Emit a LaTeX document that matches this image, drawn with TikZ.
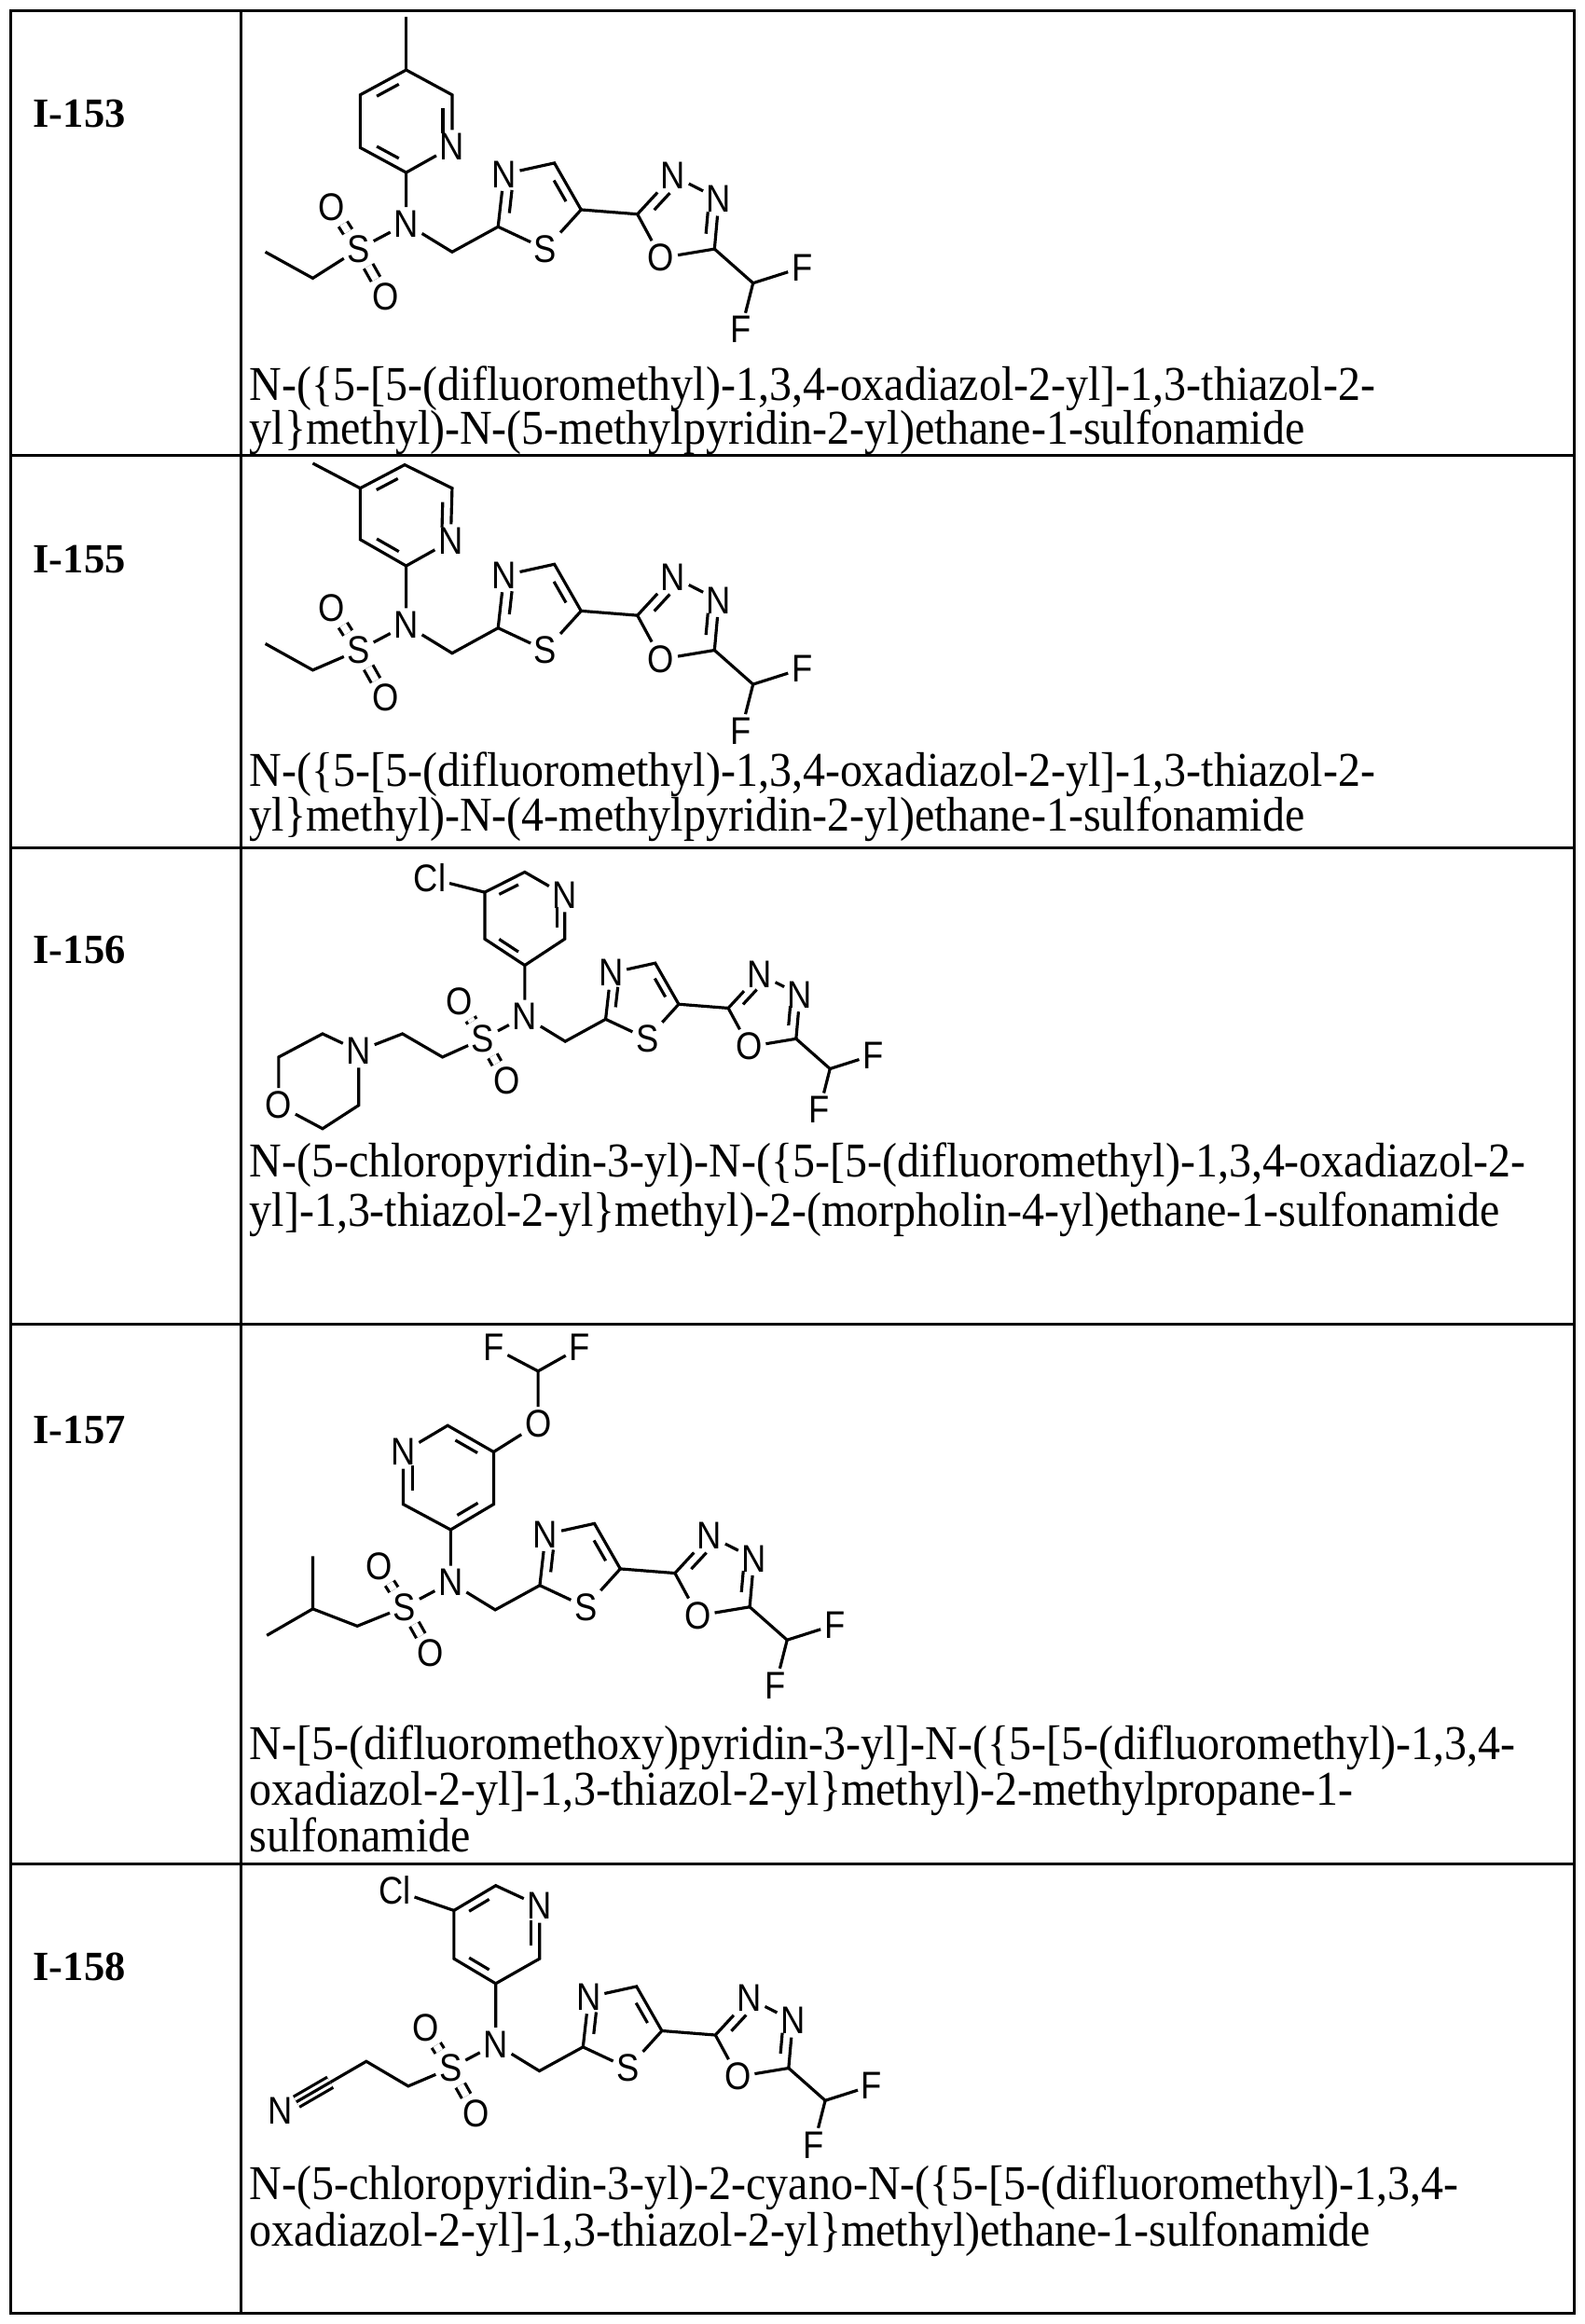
\documentclass[tikz,border=0pt]{standalone}
\usepackage{fontspec}
\setmainfont{Liberation Serif}
\newfontfamily\af[FakeStretch=0.88]{Liberation Sans}
\newfontfamily\nmf[FakeStretch=0.92]{Liberation Serif}
\usetikzlibrary{calc}
\tikzset{
 atm/.style={font=\af\fontsize{13}{14}\selectfont, inner sep=1pt},
 bond/.style={line width=1pt},
 sob/.style={line width=1pt, double, double distance=2.4pt},
 nm/.style={anchor=base west, font=\nmf\fontsize{16.4}{17}\selectfont, inner sep=0pt},
 lab/.style={anchor=west, font=\bfseries\fontsize{14}{15}\selectfont, inner sep=0pt},
 tab/.style={line width=1pt}
}
\newcommand\dbl[4]{\draw[bond] ($($(#1)!.2!(#2)$)!#4!(#3)$) -- ($($(#2)!.2!(#1)$)!#4!(#3)$);}
\newcommand\core[1]{%
 \node[atm] (#1N) at (0,0) {N};
 \coordinate (#1cm) at (31,19);
 \coordinate (#1t2) at (62,2);
 \node[atm] (#1t3) at (66,-33.5) {N};
 \coordinate (#1t4) at (100,-41);
 \coordinate (#1t5) at (118,-9.5);
 \node[atm] (#1t1) at (94,17) {S};
 \coordinate (#1tc) at (88,-13);
 \coordinate (#1o2) at (156,-6.5);
 \node[atm] (#1o3) at (180,-32.5) {N};
 \node[atm] (#1o4) at (211,-16.7) {N};
 \coordinate (#1o5) at (208,17);
 \node[atm] (#1o1) at (172,23) {O};
 \coordinate (#1oc) at (185,-3);
 \coordinate (#1cf) at (234,40);
 \node[atm] (#1f1) at (267,29.5) {F};
 \node[atm] (#1f2) at (226,71.5) {F};
 \node[atm] (#1S) at (-32,17) {S};
 \node[atm] (#1Oa) at (-50,-11.5) {O};
 \node[atm] (#1Ob) at (-14,49) {O};
 \draw[bond] (#1N)--(#1cm)--(#1t2)--(#1t3)--(#1t4)--(#1t5)--(#1t1)--(#1t2);
 \draw[bond] (#1t5)--(#1o2)--(#1o3)--(#1o4)--(#1o5)--(#1o1)--(#1o2);
 \draw[bond] (#1o5)--(#1cf)--(#1f1);
 \draw[bond] (#1cf)--(#1f2);
 \draw[bond] (#1N)--(#1S);
 \draw[sob] (#1S)--(#1Oa);
 \draw[sob] (#1S)--(#1Ob);
 \dbl{#1t2}{#1t3}{#1tc}{.27}
 \dbl{#1t4}{#1t5}{#1tc}{.25}
 \dbl{#1o2}{#1o3}{#1oc}{.27}
 \dbl{#1o4}{#1o5}{#1oc}{.27}
}
\begin{document}
\begin{tikzpicture}[x=0.5pt,y=-0.5pt]
\useasboundingbox (0,0) rectangle (1069,1568);
% table
\draw[tab] (7.3,7.3) rectangle (1062,1561);
\draw[tab] (162.6,7.3) -- (162.6,1561);
\foreach \yy in {307.3,572,893.6,1257.6} \draw[tab] (7.3,\yy) -- (1062,\yy);
\node[lab] (L1) at (22,76.6) {I-153};
\node[lab] (L2) at (22,377.6) {I-155};
\node[lab] (L3) at (22,641) {I-156};
\node[lab] (L4) at (22,965) {I-157};
\node[lab] (L5) at (22,1326.8) {I-158};

% ---------- I-153
\begin{scope}[shift={(274,151)}] \core{a} \end{scope}
\coordinate (a1) at (274,116.4);
\node[atm] (a2) at (305,99) {N};
\coordinate (a3) at (305,64);
\coordinate (a4) at (274,47.2);
\coordinate (a5) at (243,64);
\coordinate (a6) at (243,99.6);
\coordinate (ac) at (274,82);
\coordinate (am) at (274,11.5);
\coordinate (ae1) at (211,187.7);
\coordinate (ae2) at (179,170);
\draw[bond] (aN)--(a1)--(a2)--(a3)--(a4)--(a5)--(a6)--(a1);
\draw[bond] (a4)--(am);
\draw[bond] (aS)--(ae1)--(ae2);
\dbl{a2}{a3}{ac}{.2}
\dbl{a4}{a5}{ac}{.2}
\dbl{a6}{a1}{ac}{.2}
\node[nm] (t1a) at (168,270) {N-(\{5-[5-(difluoromethyl)-1,3,4-oxadiazol-2-yl]-1,3-thiazol-2-};
\node[nm] (t1b) at (168,300) {yl\}methyl)-N-(5-methylpyridin-2-yl)ethane-1-sulfonamide};

% ---------- I-155
\begin{scope}[shift={(274,421.7)}] \core{b} \end{scope}
\coordinate (b1) at (274,381.8);
\node[atm] (b2) at (304,365) {N};
\coordinate (b3) at (305,329.4);
\coordinate (b4) at (273,313.6);
\coordinate (b5) at (243,329.4);
\coordinate (b6) at (243,364);
\coordinate (bc) at (274,347.6);
\coordinate (bm) at (211,312.6);
\coordinate (be1) at (211,452.1);
\coordinate (be2) at (179,434.3);
\draw[bond] (bN)--(b1)--(b2)--(b3)--(b4)--(b5)--(b6)--(b1);
\draw[bond] (b5)--(bm);
\draw[bond] (bS)--(be1)--(be2);
\dbl{b2}{b3}{bc}{.2}
\dbl{b4}{b5}{bc}{.2}
\dbl{b6}{b1}{bc}{.2}
\node[nm] (t2a) at (168,530.8) {N-(\{5-[5-(difluoromethyl)-1,3,4-oxadiazol-2-yl]-1,3-thiazol-2-};
\node[nm] (t2b) at (168,561) {yl\}methyl)-N-(4-methylpyridin-2-yl)ethane-1-sulfonamide};

% ---------- I-156
\begin{scope}[shift={(354,685.9)},scale=0.88] \core{c} \end{scope}
\coordinate (c1) at (354,651.3);
\coordinate (c2) at (327,633.5);
\coordinate (c3) at (327,602);
\coordinate (c4) at (354,588.4);
\node[atm] (c5) at (381,604) {N};
\coordinate (c6) at (381,633.5);
\coordinate (cc) at (354,620);
\node[atm] (cCl) at (290,592.6) {Cl};
\draw[bond] (cN)--(c1)--(c2)--(c3)--(c4)--(c5)--(c6)--(c1);
\draw[bond] (c3)--(cCl);
\dbl{c3}{c4}{cc}{.2}
\dbl{c2}{c1}{cc}{.2}
\dbl{c5}{c6}{cc}{.2}
\coordinate (cx1) at (298.5,713.2);
\coordinate (cx2) at (271.5,697.5);
\node[atm] (cm1) at (242,709) {N};
\coordinate (cm2) at (217.6,697.5);
\coordinate (cm3) at (188,713.2);
\node[atm] (cm4) at (188,745.7) {O};
\coordinate (cm5) at (217.6,761.5);
\coordinate (cm6) at (242,745.7);
\draw[bond] (cS)--(cx1)--(cx2)--(cm1)--(cm2)--(cm3)--(cm4)--(cm5)--(cm6)--(cm1);
\node[nm] (t3a) at (168,794) {N-(5-chloropyridin-3-yl)-N-(\{5-[5-(difluoromethyl)-1,3,4-oxadiazol-2-};
\node[nm] (t3b) at (168,827.6) {yl]-1,3-thiazol-2-yl\}methyl)-2-(morpholin-4-yl)ethane-1-sulfonamide};

% ---------- I-157
\begin{scope}[shift={(304,1067.7)},scale=0.97] \core{d} \end{scope}
\coordinate (d1) at (304,1032.1);
\coordinate (d2) at (272,1014.9);
\node[atm] (d3) at (272,979.6) {N};
\coordinate (d4) at (302,961.8);
\coordinate (d5) at (333,979.6);
\coordinate (d6) at (333,1014.9);
\coordinate (dc) at (303,997);
\node[atm] (dO) at (363,960.7) {O};
\coordinate (dC) at (363,925.1);
\node[atm] (dF1) at (333,909.3) {F};
\node[atm] (dF2) at (391,909.3) {F};
\draw[bond] (dN)--(d1)--(d2)--(d3)--(d4)--(d5)--(d6)--(d1);
\draw[bond] (d5)--(dO)--(dC)--(dF1);
\draw[bond] (dC)--(dF2);
\dbl{d2}{d3}{dc}{.2}
\dbl{d4}{d5}{dc}{.2}
\dbl{d6}{d1}{dc}{.2}
\coordinate (di1) at (241,1097.1);
\coordinate (di2) at (211,1085.5);
\coordinate (di3) at (211,1049.9);
\coordinate (di4) at (180,1103.4);
\draw[bond] (dS)--(di1)--(di2)--(di3);
\draw[bond] (di2)--(di4);
\node[nm] (t4a) at (168,1187.3) {N-[5-(difluoromethoxy)pyridin-3-yl]-N-(\{5-[5-(difluoromethyl)-1,3,4-};
\node[nm] (t4b) at (168,1217.8) {oxadiazol-2-yl]-1,3-thiazol-2-yl\}methyl)-2-methylpropane-1-};
\node[nm] (t4c) at (168,1249.2) {sulfonamide};

% ---------- I-158
\begin{scope}[shift={(334.4,1379.2)},scale=0.95] \core{e} \end{scope}
\coordinate (e1) at (334.4,1338.3);
\coordinate (e2) at (306.2,1321.5);
\coordinate (e3) at (306.2,1289);
\coordinate (e4) at (334.4,1272.2);
\node[atm] (e5) at (364,1285.9) {N};
\coordinate (e6) at (364,1321.5);
\coordinate (ec) at (335,1305);
\node[atm] (eCl) at (266.4,1275.4) {Cl};
\draw[bond] (eN)--(e1)--(e2)--(e3)--(e4)--(e5)--(e6)--(e1);
\draw[bond] (e3)--(eCl);
\dbl{e3}{e4}{ec}{.2}
\dbl{e2}{e1}{ec}{.2}
\dbl{e5}{e6}{ec}{.2}
\coordinate (ex1) at (275.4,1407.5);
\coordinate (ex2) at (247.1,1390.8);
\coordinate (ex3) at (222.8,1404.9);
\node[atm] (exN) at (189.3,1424.3) {N};
\draw[bond] (eS)--(ex1)--(ex2)--(ex3);
\draw[line width=1pt, double, double distance=3pt] (ex3)--(exN);
\draw[bond] (ex3)--(exN);
\node[nm] (t5a) at (168,1484.2) {N-(5-chloropyridin-3-yl)-2-cyano-N-(\{5-[5-(difluoromethyl)-1,3,4-};
\node[nm] (t5b) at (168,1515.6) {oxadiazol-2-yl]-1,3-thiazol-2-yl\}methyl)ethane-1-sulfonamide};
\end{tikzpicture}
\end{document}
